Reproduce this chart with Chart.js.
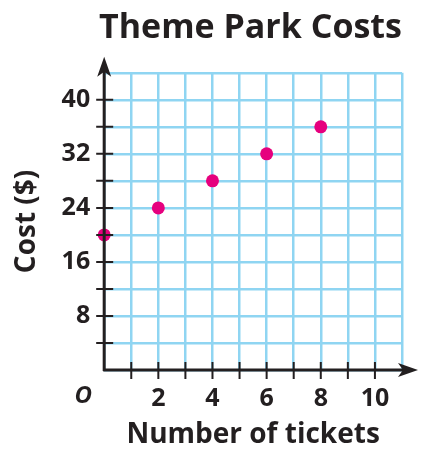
<!DOCTYPE html>
<html lang="en">
<head>
  <meta charset="UTF-8">
  <title>Theme Park Costs</title>
  <script src="https://cdn.jsdelivr.net/npm/chart.js@4.4.1/dist/chart.umd.min.js"></script>
  <style>
    html, body { margin: 0; padding: 0; background: #fff; }
  </style>
</head>
<body>
  <canvas id="costchart" width="430" height="457"></canvas>
  <script>
    // data
    const tickets = [0, 2, 4, 6, 8];
    const costs = [20, 24, 28, 32, 36];
    const xLabels = [2, 4, 6, 8, 10];
    const yLabels = [8, 16, 24, 32, 40];

    const ink = '#231f20';
    const gridBlue = '#8fd5f2';
    const dotPink = '#e6007e';

    // black axes with arrows and the little tick marks
    const axesPlugin = {
      id: 'axes',
      afterDatasetsDraw(chart) {
        const ctx = chart.ctx;
        const xs = chart.scales.x, ys = chart.scales.y;
        const x0 = xs.getPixelForValue(0), y0 = ys.getPixelForValue(0);
        const xEnd = xs.getPixelForValue(11) + 16, yEnd = ys.getPixelForValue(44) - 16;
        ctx.save();
        ctx.strokeStyle = ink;
        ctx.fillStyle = ink;
        ctx.lineWidth = 3;
        ctx.beginPath();
        ctx.moveTo(x0, y0 + 1);
        ctx.lineTo(x0, yEnd + 6);
        ctx.moveTo(x0 - 1, y0);
        ctx.lineTo(xEnd - 6, y0);
        ctx.stroke();
        ctx.lineWidth = 2;
        ctx.beginPath();
        for (let v = 1; v <= 10; v++) {
          const px = xs.getPixelForValue(v);
          ctx.moveTo(px, y0 - 8);
          ctx.lineTo(px, y0 + 9);
        }
        for (let v = 4; v <= 40; v += 4) {
          const py = ys.getPixelForValue(v);
          ctx.moveTo(x0 - 8, py);
          ctx.lineTo(x0 + 9, py);
        }
        ctx.stroke();
        // arrow heads
        ctx.beginPath();
        ctx.moveTo(x0, yEnd);
        ctx.lineTo(x0 - 7, yEnd + 20);
        ctx.lineTo(x0, yEnd + 15);
        ctx.lineTo(x0 + 7, yEnd + 20);
        ctx.closePath();
        ctx.fill();
        ctx.beginPath();
        ctx.moveTo(xEnd, y0);
        ctx.lineTo(xEnd - 20, y0 - 7);
        ctx.lineTo(xEnd - 15, y0);
        ctx.lineTo(xEnd - 20, y0 + 7);
        ctx.closePath();
        ctx.fill();
        // origin label
        ctx.font = 'italic bold 24px "Open Sans"';
        ctx.textAlign = 'center';
        ctx.textBaseline = 'middle';
        ctx.fillText('O', x0 - 21, y0 + 26);
        ctx.restore();
      }
    };

    new Chart(document.getElementById('costchart'), {
      type: 'scatter',
      data: {
        datasets: [{
          data: tickets.map((t, i) => ({ x: t, y: costs[i] })),
          backgroundColor: dotPink,
          borderColor: dotPink,
          pointRadius: 6.5,
          pointBorderWidth: 0
        }]
      },
      options: {
        responsive: false,
        animation: false,
        clip: false,
        layout: { padding: { left: 10, right: 28, top: 0, bottom: 5 } },
        plugins: {
          legend: { display: false },
          tooltip: { enabled: false },
          title: {
            display: true,
            text: 'Theme Park Costs',
            align: 'end',
            color: ink,
            font: { family: 'Open Sans', size: 34, weight: 'bold' },
            padding: { top: 8, bottom: 24 }
          }
        },
        scales: {
          x: {
            type: 'linear',
            min: 0,
            max: 11,
            border: { display: false },
            grid: { color: gridBlue, lineWidth: 2.5, drawTicks: false },
            ticks: {
              stepSize: 1,
              autoSkip: false,
              maxRotation: 0,
              minRotation: 0,
              padding: 14,
              color: ink,
              font: { family: 'Open Sans', size: 25, weight: 'bold' },
              callback: v => xLabels.includes(v) ? String(v) : ''
            },
            title: {
              display: true,
              text: 'Number of tickets',
              color: ink,
              font: { family: 'Open Sans', size: 28, weight: 'bold' },
              padding: { top: 0, bottom: 0 }
            },
            afterFit: scale => { scale.height = 82; }
          },
          y: {
            min: 0,
            max: 44,
            border: { display: false },
            grid: { color: gridBlue, lineWidth: 2.5, drawTicks: false },
            ticks: {
              stepSize: 4,
              autoSkip: false,
              padding: 14,
              color: ink,
              font: { family: 'Open Sans', size: 25, weight: 'bold' },
              callback: v => yLabels.includes(v) ? String(v) : ''
            },
            title: {
              display: true,
              text: 'Cost ($)',
              color: ink,
              font: { family: 'Open Sans', size: 28, weight: 'bold' },
              padding: { top: 0, bottom: 4 }
            }
          }
        }
      },
      plugins: [axesPlugin]
    });
  </script>
</body>
</html>
